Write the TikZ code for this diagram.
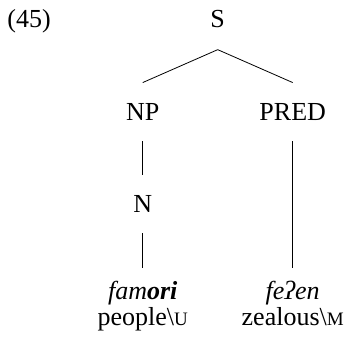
\documentclass[tikz,border=0pt]{standalone}
\usepackage{fontspec}
\setmainfont{Liberation Serif}
\usepackage{tikz}

\newcommand{\smallcap}[1]{{\fontsize{9.5pt}{11pt}\selectfont #1}}

\begin{document}
\begin{tikzpicture}[x=0.5pt, y=-0.5pt,
					thin,
					every node/.style={font=\fontsize{13pt}{11pt}\selectfont, inner sep=0pt},
					cat/.style={anchor=base},
					leaf/.style={anchor=base, align=center}]

	\useasboundingbox (0,0) rectangle (351,347);

	\node[anchor=base west] (ex) at (7,28) {(45)};
	\node[cat] (s) at (217.7,28) {S};
	\node[cat] (np) at (142.7,120) {NP};
	\node[cat] (pred) at (292.7,120) {PRED};
	\node[cat] (n) at (142.7,212.7) {N};
	\node[leaf] (famori) at (142.7,325) {\textit{fam\textbf{ori}}\\people\textbackslash\smallcap{U}};
	\node[leaf] (feen) at (292.7,325) {\textit{feʔen}\\zealous\textbackslash\smallcap{M}};

	% branch ends, kept clear of the labels
	\path	(s.south) ++(0,21) coordinate (sb)
			(np.north) ++(0,-20) coordinate (npt)
			(pred.north) ++(0,-20) coordinate (predt)
			(np.south) ++(0,21) coordinate (npb)
			(n.north) ++(0,-20) coordinate (nt)
			(n.south) ++(0,20) coordinate (nb)
			(famori.north) ++(0,-13) coordinate (famt)
			(pred.south) ++(0,21) coordinate (predb)
			(feen.north) ++(0,-13) coordinate (feent);

	\draw (sb) -- (npt);
	\draw (sb) -- (predt);
	\draw (npb) -- (nt);
	\draw (nb) -- (famt);
	\draw (predb) -- (feent);
\end{tikzpicture}
\end{document}
